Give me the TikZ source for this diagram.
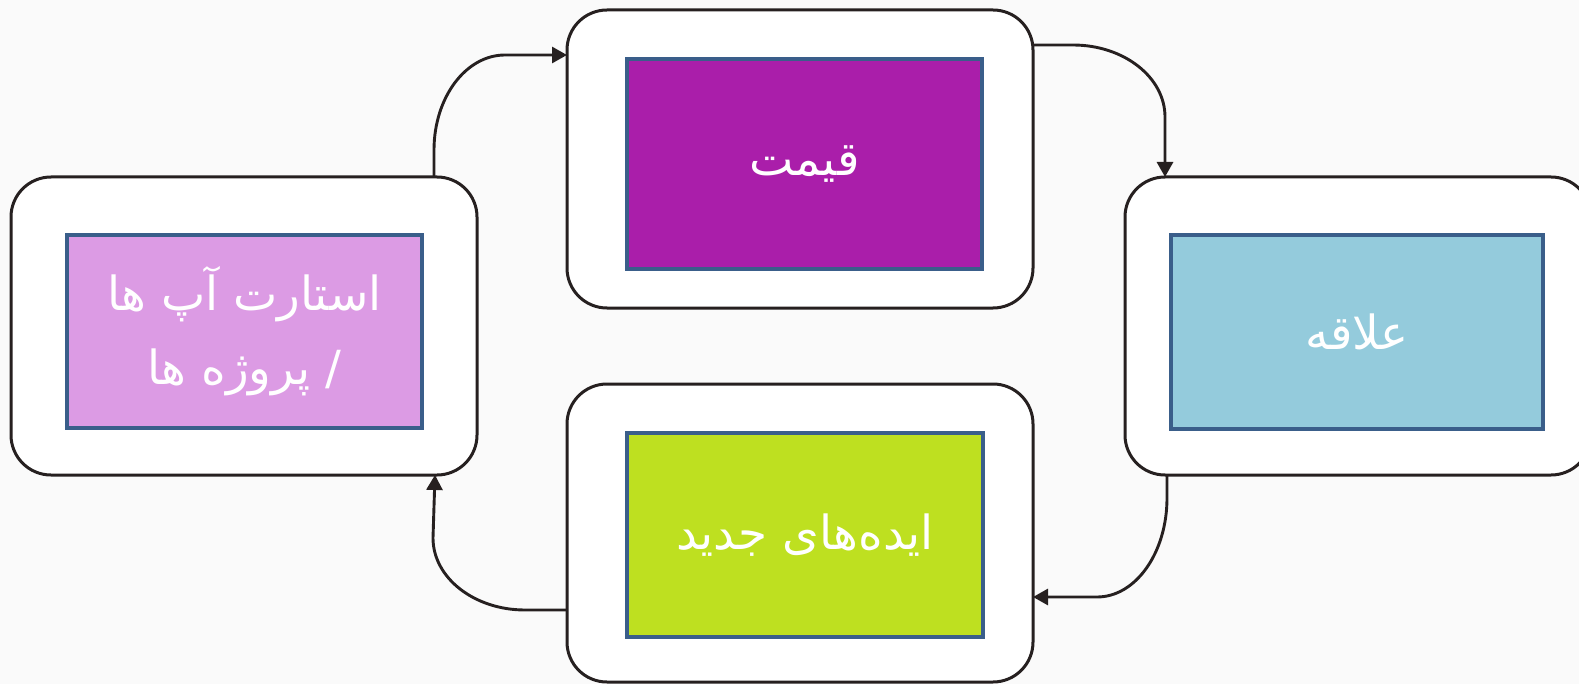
\documentclass[tikz,border=0pt]{standalone}
\usepackage{fontspec}
\newfontfamily\arabicfont[Script=Arabic]{DejaVu Sans}
\TeXXeTstate=1
\usetikzlibrary{arrows.meta,calc}
\definecolor{bgc}{RGB}{250,250,250}
\definecolor{outl}{RGB}{38,32,32}
\definecolor{innb}{RGB}{58,94,138}
\definecolor{cPurple}{RGB}{170,30,170}
\definecolor{cOrchid}{RGB}{220,155,228}
\definecolor{cBlue}{RGB}{148,203,220}
\definecolor{cLime}{RGB}{190,224,32}
\tikzset{
  outerbox/.style={draw=outl, line width=1.5pt, fill=white, rounded corners=20pt,
    minimum width=233pt, minimum height=149pt, inner sep=0pt, outer sep=0pt},
  innerbox/.style={draw=innb, line width=2.4pt, inner sep=0pt, text=white,
    font=\arabicfont\fontsize{23.5}{37}\selectfont, align=center},
  conn/.style={draw=outl, line width=1.45pt, -{Triangle[length=7.5pt,width=8pt]}}
}
\begin{document}
\begin{tikzpicture}[x=0.5pt,y=-0.5pt]
\useasboundingbox (0,0) rectangle (1579,684);
\clip (0,0) rectangle (1579,684);
\fill[bgc] (0,0) rectangle (1579,684);
% outer rounded boxes
\node[outerbox] (L) at (244,326) {};
\node[outerbox] (T) at (800,159) {};
\node[outerbox] (R) at (1358,326) {};
\node[outerbox] (B) at (800,533) {};
% inner coloured boxes
\node[innerbox, fill=cOrchid, minimum width=177.5pt, minimum height=96.5pt] (Li) at (244.5,331.5)
  {\beginR استارت آپ ها\endR\\ \beginR / پروژه ها\endR};
\node[innerbox, fill=cPurple, minimum width=177.5pt, minimum height=105pt] (Ti) at (804.5,164)
  {\beginR قیمت\endR};
\node[innerbox, fill=cBlue, minimum width=186pt, minimum height=97pt] (Ri) at (1357,332)
  {\beginR علاقه\endR};
\node[innerbox, fill=cLime, minimum width=178pt, minimum height=102pt] (Bi) at (805,535)
  {\beginR ایده‌های جدید\endR};
% connectors
\draw[conn] ([xshift=-21.5pt]L.north east) -- ++(0,-27)
  .. controls +(0,-52.5) and +(-39.2,0) .. ++(71,-95)
  -- ([yshift=-22.5pt]T.north west);
\draw[conn] ([yshift=-17.5pt]T.north east) -- ++(40,0)
  .. controls +(50.8,0) and +(0,-39.8) .. ++(92,72)
  -- ([xshift=20pt]R.north west);
\draw[conn] ([xshift=21pt]R.south west) -- ++(0,23)
  .. controls +(0,54.7) and +(38.7,0) .. ++(-70,99)
  -- ([yshift=42.5pt]B.south east);
\draw[conn] ([yshift=36pt]B.south west) -- ++(-42,0)
  .. controls +(-50.8,0) and +(0,39.8) .. ++(-92,-72)
  -- ([xshift=-21pt]L.south east);
\end{tikzpicture}
\end{document}
